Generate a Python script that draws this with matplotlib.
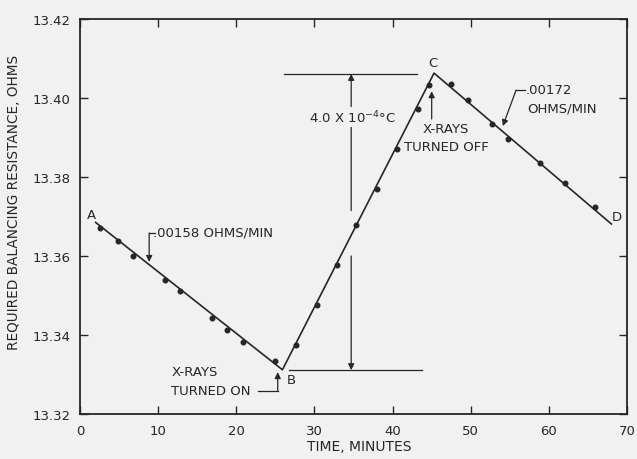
import matplotlib
matplotlib.use("Agg")
import matplotlib.pyplot as plt

# ---- data ----
times = [2.6, 4.8, 6.8, 10.9, 12.8, 16.9, 18.8, 20.9, 25.0,
         27.6, 30.3, 32.9, 35.3, 38.0, 40.5, 43.2, 44.6,
         47.5, 49.6, 52.7, 54.8, 58.9, 62.0, 65.9]
resistance = [13.3671, 13.3638, 13.3600, 13.3539, 13.3511, 13.3443, 13.3413, 13.3382, 13.3334,
              13.3375, 13.3476, 13.3577, 13.3678, 13.3770, 13.3871, 13.3972, 13.4033,
              13.4035, 13.3995, 13.3934, 13.3896, 13.3835, 13.3785, 13.3724]
fit_x = [2.0, 25.9, 45.3, 68.0]
fit_y = [13.3685, 13.3312, 13.4063, 13.3681]
x_ticks = [0, 10, 20, 30, 40, 50, 60, 70]
y_ticks = [13.32, 13.34, 13.36, 13.38, 13.40, 13.42]

ink = "#262626"
bg = "#f1f1f1"
plt.rcParams["font.family"] = ["DejaVu Sans"]

fig = plt.figure(figsize=(6.37, 4.60), dpi=100, facecolor=bg)
ax = fig.add_axes([0.1256, 0.0978, 0.8588, 0.8587], facecolor=bg)

ax.plot(fit_x, fit_y, color=ink, lw=1.2)
ax.plot(times, resistance, "o", color=ink, ms=3.3)

ax.set_xlim(0, 70)
ax.set_ylim(13.32, 13.42)
ax.set_xticks(x_ticks)
ax.set_xticklabels([str(t) for t in x_ticks])
ax.set_yticks(y_ticks)
ax.set_yticklabels([f"{v:.2f}" for v in y_ticks])
ax.tick_params(direction="in", top=True, right=True, length=6, width=1,
               color=ink, labelcolor=ink, labelsize=9.5, pad=7)
for s in ax.spines.values():
    s.set_color(ink)
    s.set_linewidth(1.3)

ax.set_xlabel("TIME, MINUTES", color=ink, fontsize=10)
ax.xaxis.set_label_coords(0.51, -0.064)
ax.set_ylabel("REQUIRED BALANCING RESISTANCE, OHMS", color=ink, fontsize=9.8)
ax.yaxis.set_label_coords(-0.108, 0.538)

tk = dict(color=ink, fontsize=9.5)
arrow = dict(arrowstyle="-|>", color=ink, lw=0.9, mutation_scale=9, shrinkA=0, shrinkB=0)

# point labels
ax.text(1.5, 13.3706, "A", ha="center", va="center", **tk)
ax.text(27.0, 13.3288, "B", ha="center", va="center", **tk)
ax.text(45.1, 13.4091, "C", ha="center", va="center", **tk)
ax.text(68.7, 13.3701, "D", ha="center", va="center", **tk)

# .00158 OHMS/MIN
ax.plot([9.6, 8.85], [13.3658, 13.3658], color=ink, lw=0.9)
ax.annotate("", xy=(8.85, 13.3585), xytext=(8.85, 13.3658), arrowprops=arrow)
ax.text(9.3, 13.3662, ".00158 OHMS/MIN", ha="left", va="center", **tk)

# X-RAYS TURNED ON
ax.text(11.7, 13.3307, "X-RAYS", ha="left", va="center", **tk)
ax.text(11.7, 13.3259, "TURNED ON", ha="left", va="center", **tk)
ax.plot([22.8, 25.3], [13.3259, 13.3259], color=ink, lw=0.9)
ax.annotate("", xy=(25.3, 13.3306), xytext=(25.3, 13.3259), arrowprops=arrow)

# 4.0 x 10^-4 C dimension
ax.plot([26.1, 43.1], [13.4061, 13.4061], color=ink, lw=0.9)
ax.plot([26.8, 43.8], [13.3311, 13.3311], color=ink, lw=0.9)
ax.annotate("", xy=(34.7, 13.4061), xytext=(34.7, 13.3715), arrowprops=arrow)
ax.annotate("", xy=(34.7, 13.3311), xytext=(34.7, 13.3600), arrowprops=arrow)
ax.text(34.9, 13.3952, r"4.0 X 10$^{-4}$°C", ha="center", va="center",
        bbox=dict(boxstyle="square,pad=0.15", fc=bg, ec="none"), **tk)

# X-RAYS TURNED OFF
ax.annotate("", xy=(45.0, 13.4017), xytext=(45.0, 13.3947), arrowprops=arrow)
ax.text(46.8, 13.3922, "X-RAYS", ha="center", va="center", **tk)
ax.text(46.9, 13.3878, "TURNED OFF", ha="center", va="center", **tk)

# .00172 OHMS/MIN
ax.plot([57.0, 55.8], [13.4020, 13.4020], color=ink, lw=0.9)
ax.annotate("", xy=(54.1, 13.3929), xytext=(55.8, 13.4020), arrowprops=arrow)
ax.text(57.0, 13.4022, ".00172", ha="left", va="center", **tk)
ax.text(57.2, 13.3975, "OHMS/MIN", ha="left", va="center", **tk)

fig.savefig("out.png", dpi=100, facecolor=bg)
